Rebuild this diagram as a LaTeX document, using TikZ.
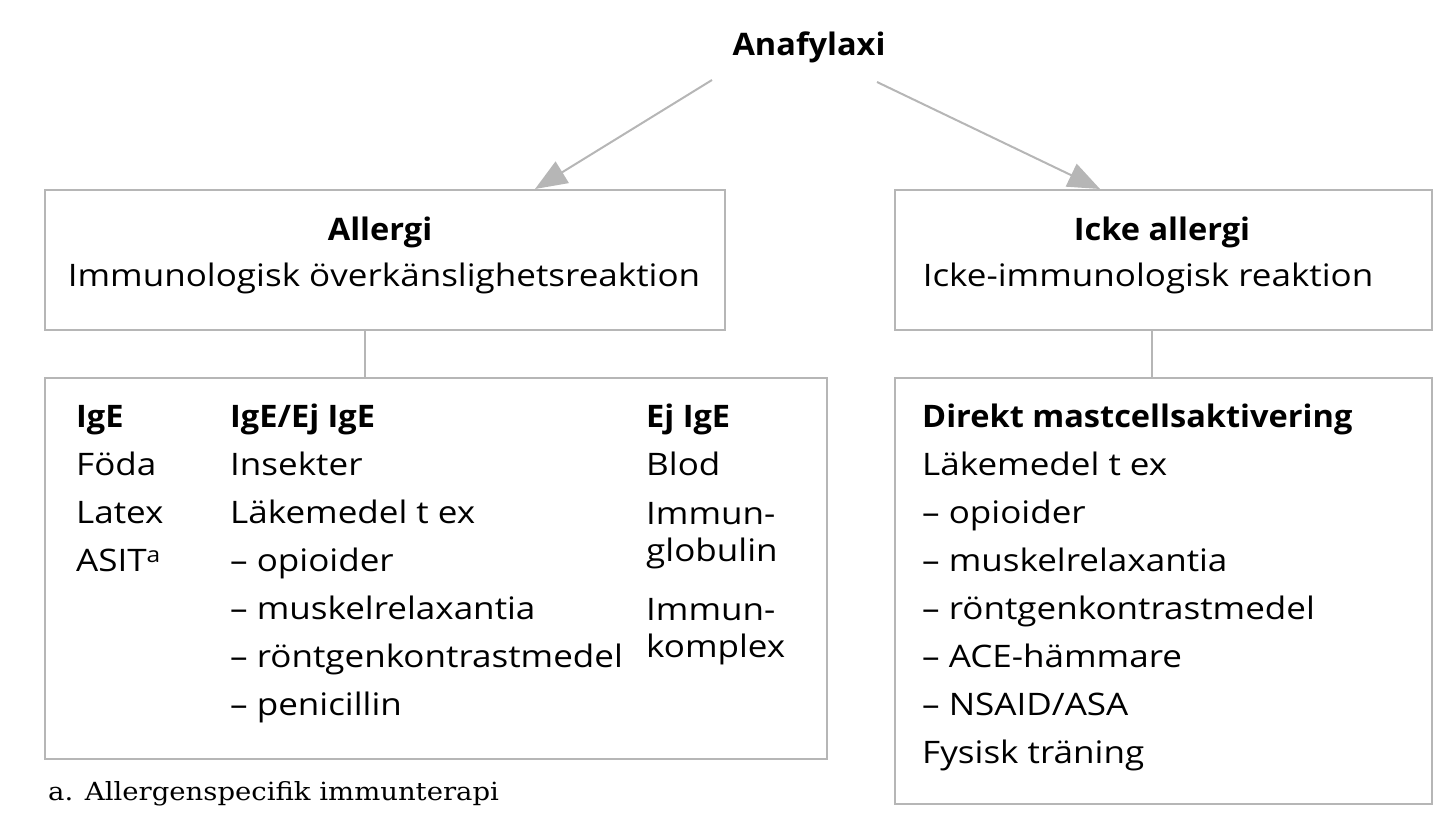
\documentclass[tikz,border=0pt]{standalone}
\usepackage{fontspec}
\setsansfont{Open Sans}[FakeStretch=1.13, BoldFeatures={FakeStretch=1.05}]
\newfontfamily\notefamily{DejaVu Serif}[FakeStretch=1.1]
\usetikzlibrary{arrows.meta}
\definecolor{linegray}{RGB}{182,182,182}
\newcommand{\bodyfont}{\fontsize{31bp}{37bp}\selectfont\sffamily}
\newcommand{\notefont}{\fontsize{25bp}{30bp}\selectfont\notefamily}
\tikzset{
  box/.style={draw=linegray, line width=2bp, inner sep=0, anchor=north west},
  txt/.style={anchor=base west, inner sep=0, font=\bodyfont},
  head/.style={anchor=base, inner sep=0, font=\bodyfont\bfseries},
  arr/.style={draw=linegray, line width=2bp, -{Triangle[length=32bp,width=25bp]}}
}
\begin{document}
\begin{tikzpicture}[x=1bp,y=-1bp]
    \useasboundingbox (0,0) rectangle (1447,837);

    % top
    \node[head] (ana) at (809,55) {Anafylaxi};

    % boxes
    \node[box, minimum width=680bp, minimum height=140bp] (allergi) at (44,189) {};
    \node[box, minimum width=537bp, minimum height=140bp] (icke) at (894,189) {};
    \node[box, minimum width=782bp, minimum height=381bp] (ige) at (44,377) {};
    \node[box, minimum width=537bp, minimum height=426bp] (direkt) at (894,377) {};

    \node[head] (allergi-t) at (380,240) {Allergi};
    \node[anchor=base, inner sep=0, font=\bodyfont] (allergi-s) at (384,286) {Immunologisk överkänslighetsreaktion};
    \node[head] (icke-t) at (1162,240) {Icke allergi};
    \node[anchor=base, inner sep=0, font=\bodyfont] (icke-s) at (1148,286) {Icke-immunologisk reaktion};

    % arrows
    \coordinate (la) at (712,80);
    \coordinate (lb) at (535,189);
    \coordinate (ra) at (877,82);
    \coordinate (rb) at (1100,189);
    \draw[arr] (la) -- (lb);
    \draw[arr] (ra) -- (rb);

    \draw[draw=linegray, line width=2bp] (allergi.south -| 365,0) -- (ige.north -| 365,0);
    \draw[draw=linegray, line width=2bp] (icke.south -| 1152,0) -- (direkt.north -| 1152,0);

    % first column
    \node[txt, font=\bodyfont\bfseries] (c1) at (76,427) {IgE};
    \foreach \t [count=\i] in {Föda,Latex,ASIT\textsuperscript{a}}
        \node[txt] (c1-\i) at (76,427+48*\i) {\t};

    % second column
    \node[txt, font=\bodyfont\bfseries] (c2) at (230,427) {IgE/Ej IgE};
    \foreach \t [count=\i] in {Insekter,Läkemedel t ex,-- opioider,-- muskelrelaxantia,-- röntgenkontrastmedel,-- penicillin}
        \node[txt] (c2-\i) at (230,427+48*\i) {\t};

    % third column
    \node[txt, font=\bodyfont\bfseries] (c3) at (646,427) {Ej IgE};
    \node[txt] (c3-1) at (646,475) {Blod};
    \node[txt] (c3-2) at (646,524) {Immun-};
    \node[txt] (c3-3) at (646,561) {globulin};
    \node[txt] (c3-4) at (646,620) {Immun-};
    \node[txt] (c3-5) at (646,657) {komplex};

    % right box
    \node[txt, font=\bodyfont\bfseries] (c4) at (922,427) {Direkt mastcellsaktivering};
    \foreach \t [count=\i] in {Läkemedel t ex,-- opioider,-- muskelrelaxantia,-- röntgenkontrastmedel,-- ACE-hämmare,-- NSAID/ASA,Fysisk träning}
        \node[txt] (c4-\i) at (922,427+48*\i) {\t};

    \node[anchor=base west, inner sep=0, font=\notefont] (note) at (48,800) {a. Allergenspecifik immunterapi};
\end{tikzpicture}
\end{document}
